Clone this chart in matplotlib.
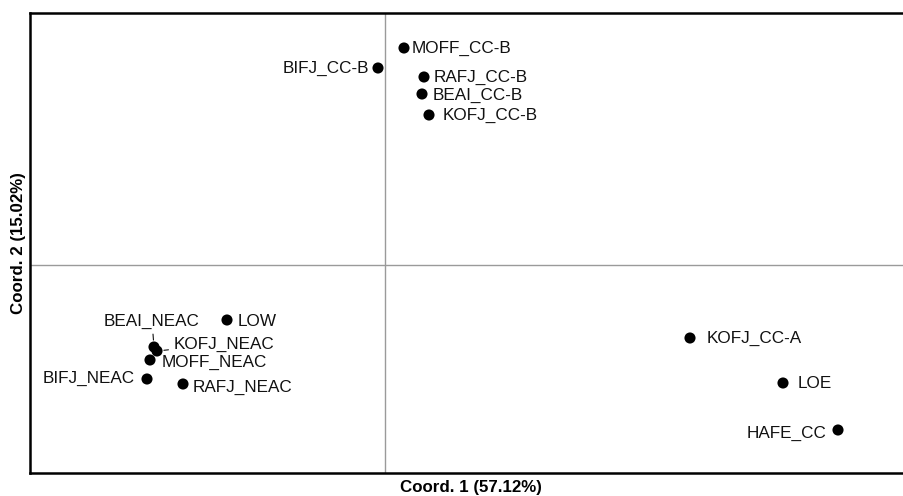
import matplotlib
matplotlib.use("Agg")
import matplotlib.pyplot as plt

# PCoA scores (axis 1, axis 2) per sample
samples = ["MOFF_CC-B", "BIFJ_CC-B", "RAFJ_CC-B", "BEAI_CC-B", "KOFJ_CC-B",
           "LOW", "BEAI_NEAC", "KOFJ_NEAC", "MOFF_NEAC", "BIFJ_NEAC", "RAFJ_NEAC",
           "KOFJ_CC-A", "LOE", "HAFE_CC"]
coord1 = [0.19, -0.07, 0.39, 0.37, 0.44,
          -1.58, -2.31, -2.28, -2.35, -2.38, -2.02,
          3.05, 3.98, 4.53]
coord2 = [2.17, 1.97, 1.88, 1.71, 1.50,
          -0.55, -0.82, -0.86, -0.95, -1.14, -1.19,
          -0.73, -1.18, -1.65]
xlabel = "Coord. 1 (57.12%)"
ylabel = "Coord. 2 (15.02%)"

# label placement: (dx, dy) in pixels, horizontal alignment, leader line
label_pos = {
    "MOFF_CC-B": (8, 0, "left", False),
    "BIFJ_CC-B": (-9, 0, "right", False),
    "RAFJ_CC-B": (10, 0, "left", False),
    "BEAI_CC-B": (11, -1, "left", False),
    "KOFJ_CC-B": (14, 0, "left", False),
    "LOW": (11, -2, "left", False),
    "BEAI_NEAC": (-2, 26, "center", True),
    "KOFJ_NEAC": (17, 7, "left", True),
    "MOFF_NEAC": (12, -2, "left", False),
    "BIFJ_NEAC": (-12, 1, "right", False),
    "RAFJ_NEAC": (10, -3, "left", False),
    "KOFJ_CC-A": (17, 0, "left", False),
    "LOE": (15, 0, "left", False),
    "HAFE_CC": (-11, -3, "right", False),
}

plt.rcParams["font.family"] = ["Liberation Sans", "DejaVu Sans"]

fig = plt.figure(figsize=(9.04, 4.96), dpi=100)
W, H = 904, 496
left, right, top, bottom = 30, 912, 13, 473
ax = fig.add_axes([left / W, 1 - bottom / H, (right - left) / W, (bottom - top) / H])

ax.set_xlim(-3.55, 5.27)
ax.set_ylim(-2.08, 2.52)
ax.axvline(0, color="#9a9a9a", lw=1.0, zorder=1)
ax.axhline(0, color="#9a9a9a", lw=1.0, zorder=1)

ax.scatter(coord1, coord2, s=64, color="black", edgecolors="none", zorder=3)

for name, x, y in zip(samples, coord1, coord2):
    dx, dy, ha, leader = label_pos[name]
    if leader:
        ax.annotate(name, xy=(x, y), xytext=(dx, dy), textcoords="offset pixels",
                    ha=ha, va="center", fontsize=12.3, color="#111111",
                    arrowprops=dict(arrowstyle="-", color="#111111", lw=0.8,
                                    shrinkA=2, shrinkB=5))
    else:
        ax.annotate(name, xy=(x, y), xytext=(dx, dy), textcoords="offset pixels",
                    ha=ha, va="center", fontsize=12.3, color="#111111")

ax.set_xticks([])
ax.set_yticks([])
for sp in ax.spines.values():
    sp.set_linewidth(1.8)
    sp.set_color("black")

ax.set_xlabel(xlabel, fontsize=12.2, fontweight="bold", labelpad=5)
ax.set_ylabel(ylabel, fontsize=12.2, fontweight="bold", labelpad=3)

fig.savefig("out.png", dpi=100)
